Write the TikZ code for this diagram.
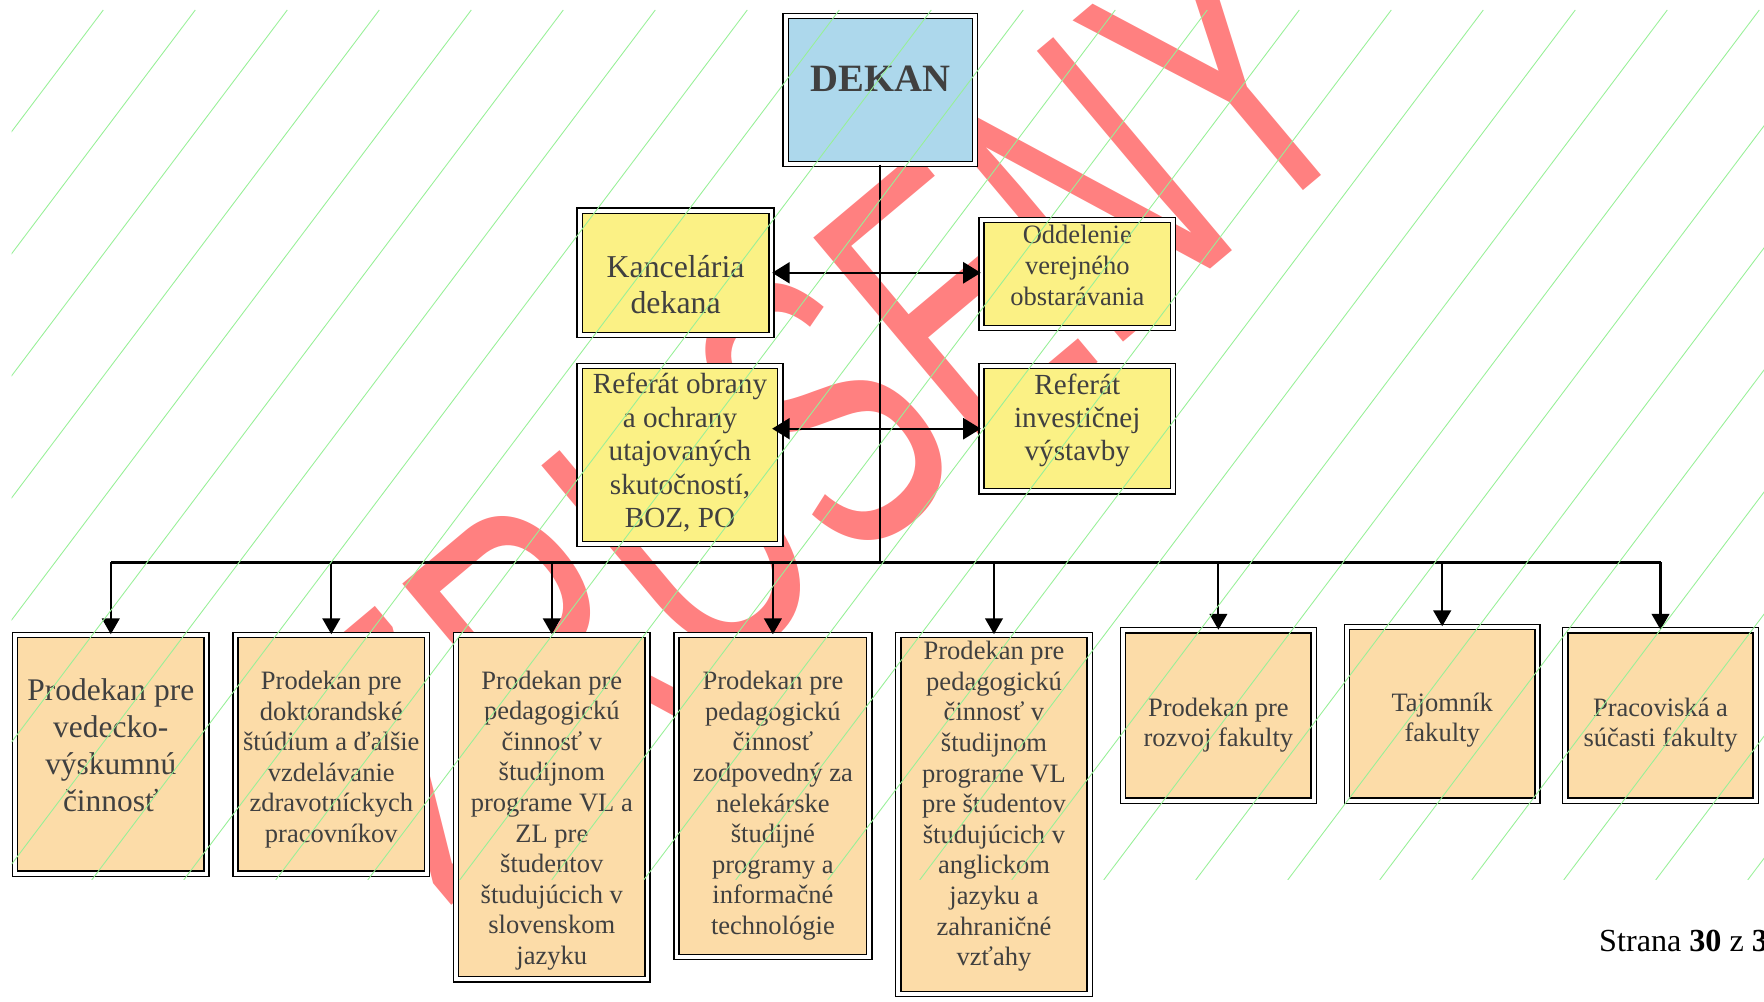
\documentclass[tikz,border=0pt]{standalone}
\usepackage{fontspec}
\setmainfont{Liberation Serif}
\newfontfamily\wmfont{Liberation Sans}
\usepackage{graphicx}
\usetikzlibrary{arrows.meta}
\definecolor{txtgray}{HTML}{404040}
\definecolor{dekanblue}{HTML}{ADD8EC}
\definecolor{officeyellow}{HTML}{FBF185}
\definecolor{unitpeach}{HTML}{FCDCA8}
\definecolor{hatchgreen}{HTML}{98F098}
\newcommand{\orgtext}[2]{\raisebox{#1}[\height][\depth]{\begin{tabular}{@{}c@{}}#2\end{tabular}}}

\begin{document}
\begin{tikzpicture}[x=0.2mm, y=-0.2mm,
  orgbox/.style={draw=black, line width=0.8pt, double=white, double distance=2.2pt, inner sep=0pt, align=center, text=txtgray},
  topbox/.style={orgbox, fill=dekanblue, font=\bfseries\fontsize{22}{24}\selectfont},
  staffbox/.style={orgbox, fill=officeyellow},
  unitbox/.style={orgbox, fill=unitpeach, minimum width=38.3mm, font=\fontsize{15.1}{17.4}\selectfont},
  conn/.style={line width=1.2pt},
  drop/.style={conn, -{Triangle[length=9pt, width=10pt]}},
  both/.style={conn, {Triangle[length=10pt, width=12pt]}-{Triangle[length=10pt, width=12pt]}},
  hatch/.style={hatchgreen, line width=0.5pt}]
\useasboundingbox (0,0) rectangle (1764,1002);
\clip (0,0) rectangle (1764,1002);

\node[text=red!50, font=\wmfont\fontsize{230}{230}\selectfont, rotate=40, anchor=base] (zrusene) at (912,519) {\scalebox{0.63}[1]{ZRUŠENÝ}};

\path (880.3,90) node[topbox, minimum width=37.86mm, minimum height=29.54mm] (dekan) {\raisebox{6.4pt}[\height][\depth]{DEKAN}}
  (675.6,272.8) node[staffbox, minimum width=38.34mm, minimum height=24.82mm, font=\fontsize{18.1}{20.4}\selectfont] (kancelaria) {\orgtext{-8.6pt}{Kancelária\\dekana}}
  (1077.3,274) node[staffbox, minimum width=38.32mm, minimum height=21.66mm, font=\fontsize{15.1}{17.6}\selectfont] (oddelenie) {\orgtext{3.2pt}{Oddelenie\\verejného\\obstarávania}}
  (680,455) node[staffbox, minimum width=40.14mm, minimum height=35.62mm, font=\fontsize{16.6}{19}\selectfont] (obrana) {\orgtext{0.6pt}{Referát obrany\\a ochrany\\utajovaných\\skutočností,\\BOZ, PO}}
  (1077.3,428.7) node[staffbox, minimum width=38.32mm, minimum height=25.04mm, font=\fontsize{16.6}{19}\selectfont] (investicie) {\orgtext{4.5pt}{Referát\\investičnej\\výstavby}};

\path (110.8,754.3) node[unitbox, minimum height=47.74mm, font=\fontsize{17.9}{21}\selectfont] (u1) {\orgtext{3.2pt}{Prodekan pre\\vedecko-\\výskumnú\\činnosť}}
  (331.3,754.3) node[unitbox, minimum height=47.74mm] (u2) {\orgtext{-3.2pt}{Prodekan pre\\doktorandské\\štúdium a ďalšie\\vzdelávanie\\zdravotníckych\\pracovníkov}}
  (551.8,807.1) node[unitbox, minimum height=68.88mm] (u3) {\orgtext{-7.7pt}{Prodekan pre\\pedagogickú\\činnosť v\\študijnom\\programe VL a\\ZL pre\\študentov\\študujúcich v\\slovenskom\\jazyku}}
  (772.9,796) node[unitbox, minimum width=38.54mm, minimum height=64.4mm] (u4) {\orgtext{-5.7pt}{Prodekan pre\\pedagogickú\\činnosť\\zodpovedný za\\nelekárske\\študijné\\programy a\\informačné\\technológie}}
  (994,814.5) node[unitbox, minimum height=71.84mm] (u5) {\orgtext{4.5pt}{Prodekan pre\\pedagogickú\\činnosť v\\študijnom\\programe VL\\pre študentov\\študujúcich v\\anglickom\\jazyku a\\zahraničné\\vzťahy}}
  (1218.4,715.5) node[unitbox, minimum width=38.1mm, minimum height=34.04mm] (u6) {\orgtext{-5.7pt}{Prodekan pre\\rozvoj fakulty}}
  (1442.2,713.8) node[unitbox, minimum width=38.1mm, minimum height=34.72mm] (u7) {\orgtext{-3.8pt}{Tajomník\\fakulty}}
  (1660.5,715.5) node[unitbox, minimum width=38.1mm, minimum height=34.04mm] (u8) {\orgtext{-5.7pt}{Pracoviská a\\súčasti fakulty}};

\coordinate (bus) at (880.3,562.5);
\draw[conn] (dekan.south) -- (bus);
\draw[conn] (u1.north |- bus) -- (u8.north |- bus);
\foreach \i in {1,...,8}
  \draw[drop] (u\i.north |- bus) -- (u\i.north);
\draw[both] (kancelaria.east) -- (kancelaria.east -| oddelenie.west);
\draw[both] (kancelaria.east |- investicie.west) -- (investicie.west);

\begin{scope}
  \clip (11.5,10) rectangle (1764,879);
  \foreach \k in {1,...,27}
    \draw[hatch] ({11.3+92*\k},10) -- ++(-655.6,870);
\end{scope}

\node[anchor=base west, font=\fontsize{18.3}{20}\selectfont] (strana) at (1593,951) {Strana \textbf{30} z \textbf{33}};
\end{tikzpicture}
\end{document}
